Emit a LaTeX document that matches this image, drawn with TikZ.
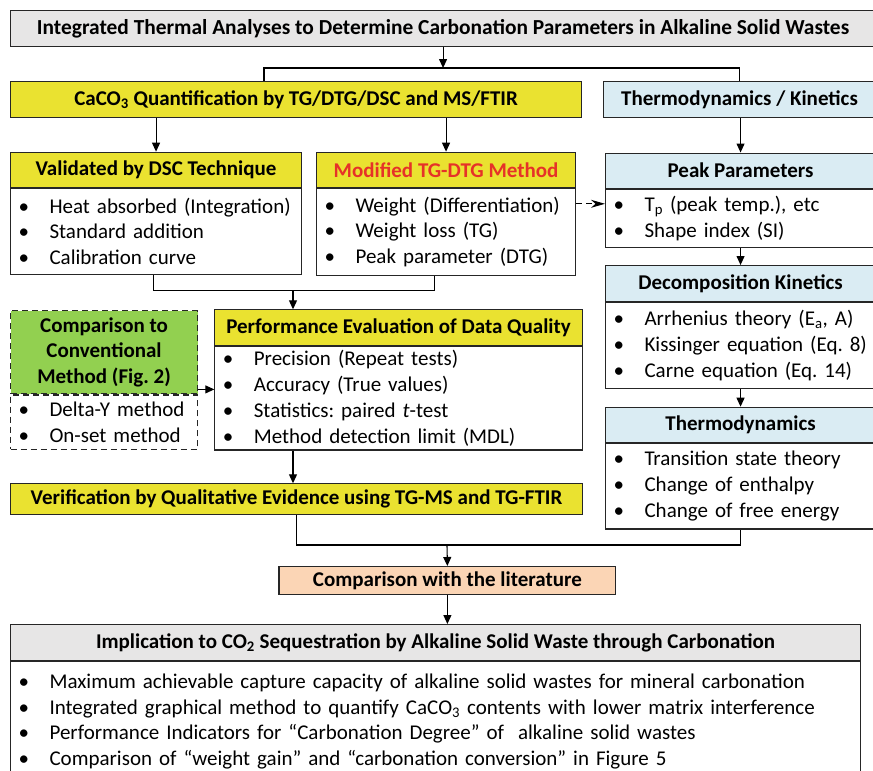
\documentclass[tikz,border=0pt]{standalone}
\usepackage{fontspec}
\setmainfont{Carlito}
\usetikzlibrary{arrows.meta}
\definecolor{boxline}{RGB}{38,38,38}
\definecolor{hdrgray}{RGB}{231,230,230}
\definecolor{hdryel}{RGB}{234,226,48}
\definecolor{hdrblue}{RGB}{218,236,243}
\definecolor{hdrgreen}{RGB}{146,208,80}
\definecolor{hdrpeach}{RGB}{251,213,181}
\definecolor{modred}{RGB}{230,50,40}
\tikzset{>={Triangle[length=9pt,width=8pt]}}
\newcommand{\itm}{\makebox[31pt][l]{•}}
\frenchspacing

\begin{document}
\begin{tikzpicture}[x=1pt, y=-1pt, line width=1.1pt,
  font=\fontsize{21}{25.7}\selectfont,
  hdr/.style={draw=boxline, anchor=north west, inner sep=0pt, align=center,
    font=\bfseries\fontsize{21}{25.7}\selectfont},
  lst/.style={draw=boxline, anchor=north west, inner xsep=8pt, inner ysep=0pt,
    align=left, fill=white},
  dashbox/.style={dash pattern=on 6pt off 4pt}]
\useasboundingbox (0,0) rectangle (873,771);

% top level
\node[hdr, fill=hdrgray, minimum width=865pt, minimum height=35.7pt] (title) at (10,10)
  {\fontsize{21.4}{25.7}\selectfont Integrated Thermal Analyses to Determine Carbonation Parameters in Alkaline Solid Wastes};
\node[hdr, fill=hdryel, minimum width=571pt, minimum height=35.7pt] (cq) at (10,81)
  {CaCO\textsubscript{3} Quantification by TG/DTG/DSC and MS/FTIR};
\node[hdr, fill=hdrblue, minimum width=272pt, minimum height=35.7pt] (tk) at (603,81)
  {Thermodynamics / Kinetics};

% left column
\node[hdr, fill=hdryel, minimum width=291pt, minimum height=35pt] (valh) at (10,151.7)
  {Validated by DSC Technique};
\node[lst, text width=275pt, minimum height=86pt] (valb) at (valh.south west)
  {\itm Heat absorbed (Integration)\\ \itm Standard addition\\ \itm Calibration curve};
\node[hdr, fill=hdryel, minimum width=259pt, minimum height=35pt, text=modred] (modh) at (316,151.7)
  {Modified TG-DTG Method};
\node[lst, text width=243pt, minimum height=87.3pt] (modb) at (modh.south west)
  {\itm Weight (Differentiation)\\ \itm Weight loss (TG)\\ \itm Peak parameter (DTG)};

\node[hdr, fill=hdrgreen, dashbox, minimum width=187pt, minimum height=83.3pt] (comph) at (10,310)
  {Comparison to\\ Conventional\\ Method (Fig. 2)};
\node[lst, dashbox, text width=171pt, minimum height=54.4pt] (compb) at (comph.south west)
  {\itm Delta-Y method\\ \itm On-set method};
\node[hdr, fill=hdryel, minimum width=367.4pt, minimum height=35.7pt] (perfh) at (214.3,309.3)
  {Performance Evaluation of Data Quality};
\node[lst, text width=351.4pt, minimum height=103.3pt] (perfb) at (perfh.south west)
  {\itm Precision (Repeat tests)\\ \itm Accuracy (True values)\\
   \itm Statistics: paired \textit{t}-test\\ \itm Method detection limit (MDL)};

\node[hdr, fill=hdryel, minimum width=571.4pt, minimum height=31pt] (verif) at (10.3,483.3)
  {Verification by Qualitative Evidence using TG-MS and TG-FTIR};

% right column
\node[hdr, fill=hdrblue, minimum width=270pt, minimum height=35pt] (peakh) at (605,152.5)
  {Peak Parameters};
\node[lst, text width=254pt, minimum height=58.6pt] (peakb) at (peakh.south west)
  {\itm T\textsubscript{p} (peak temp.), etc\\ \itm Shape index (SI)};
\node[hdr, fill=hdrblue, minimum width=270pt, minimum height=35.7pt] (kinh) at (605,265)
  {Decomposition Kinetics};
\node[lst, text width=254pt, minimum height=86pt] (kinb) at (kinh.south west)
  {\itm Arrhenius theory (E\textsubscript{a}, A)\\ \itm Kissinger equation (Eq. 8)\\
   \itm Carne equation (Eq. 14)};
\node[hdr, fill=hdrblue, minimum width=270pt, minimum height=35pt] (thdh) at (605,406.7)
  {Thermodynamics};
\node[lst, text width=254pt, minimum height=85.6pt] (thdb) at (thdh.south west)
  {\itm Transition state theory\\ \itm Change of enthalpy\\ \itm Change of free energy};

% bottom
\node[hdr, fill=hdrpeach, minimum width=336.9pt, minimum height=28pt] (lit) at (278.4,566)
  {Comparison with the literature};
\node[hdr, fill=hdrgray, minimum width=850pt, minimum height=36pt] (implh) at (10,624)
  {Implication to CO\textsubscript{2} Sequestration by Alkaline Solid Waste through Carbonation};
\node[lst, text width=834pt, minimum height=120pt] (implb) at (implh.south west)
  {\itm Maximum achievable capture capacity of alkaline solid wastes for mineral carbonation\\
   \itm Integrated graphical method to quantify CaCO\textsubscript{3} contents with lower matrix interference\\
   \itm Performance Indicators for “Carbonation Degree” of\ \ alkaline solid wastes\\
   \itm Comparison of “weight gain” and “carbonation conversion” in Figure 5};

% connectors
\coordinate (split) at (264,68);
\draw[->] (title.south) -- (title.south |- split);
\draw (split |- cq.north) -- (split) -| (tk.north);
\draw[->] (valh.north |- cq.south) -- (valh.north);
\draw[->] (modh.north |- cq.south) -- (modh.north);
\draw[->] (tk.south -| peakh.north) -- (peakh.north);
\draw[->] (peakb.south) -- (kinh.north);
\draw[->] (kinb.south) -- (thdh.north);
\draw[dashbox, -{Stealth[length=14pt,width=8pt]}] ([yshift=-16pt]modb.north east)
  -- ([yshift=-16pt]modb.north east -| peakb.west);

\coordinate (j1) at (293,290.7);
\draw ([xshift=-2.5pt]valb.south) |- (j1) -| ([xshift=-12pt]modb.south);
\draw[->] (j1) -- (j1 |- perfh.north);
\draw[->] ([yshift=5pt]comph.south east) -- ([yshift=5pt]comph.south east -| perfb.west);
\draw[->] (j1 |- perfb.south) -- (j1 |- verif.north);

\coordinate (j2) at (447,545);
\draw (verif.south) |- (j2) -| (thdb.south);
\draw[->] (j2) -- (lit.north);
\draw[->] (lit.south) -- (lit.south |- implh.north);
\end{tikzpicture}
\end{document}
